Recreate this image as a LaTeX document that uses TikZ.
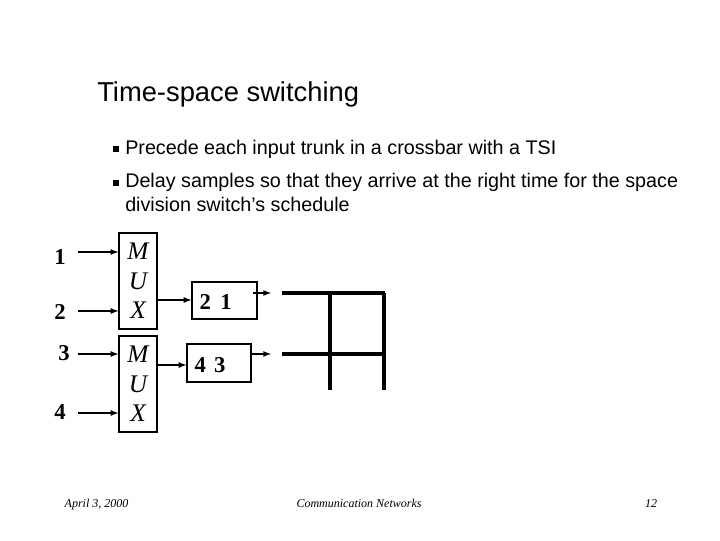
\documentclass[tikz,border=0pt]{standalone}
\usepackage{fontspec}
\setmainfont{Liberation Serif}
\newfontfamily\arial{Liberation Sans}
\begin{document}
\begin{tikzpicture}[x=0.75pt,y=-0.75pt,
 box/.style={draw,line width=0.9pt,inner sep=0pt},
 arr/.style={-latex,line width=1pt},
 bar/.style={line width=2.6pt},
 num/.style={font=\fontsize{17}{17}\selectfont\bfseries},
 mux/.style={font=\fontsize{19}{22}\selectfont\itshape,align=center},
 foot/.style={font=\fontsize{9}{10}\selectfont\itshape,anchor=base},
 bul/.style={fill,minimum size=4.5pt,inner sep=0pt}]
\useasboundingbox (0,0) rectangle (720,540);
\node[anchor=base west,font=\arial\fontsize{20.5}{24}\selectfont,inner sep=0pt] (title) at (97,101) {Time-space switching};
\node[bul] (b1) at (116,149) {};
\node[bul] (b2) at (116,183) {};
\node[anchor=base west,font=\arial\fontsize{14.8}{18}\selectfont,align=left,inner sep=0pt] (t1) at (125,154) {Precede each input trunk in a crossbar with a TSI};
\node[anchor=north west,font=\arial\fontsize{14.8}{18}\selectfont,align=left,inner sep=0pt] (t2) at (125,173) {Delay samples so that they arrive at the right time for the space\\division switch’s schedule};
% MUXes
\node[box,minimum width=38*0.75pt,minimum height=96*0.75pt] (m1) at (138,281) {};
\node[box,minimum width=38*0.75pt,minimum height=96*0.75pt] (m2) at (138,384) {};
\node[mux] (m1t) at (m1.center) {M\\U\\X};
\node[mux] (m2t) at (m2.center) {M\\U\\X};
% inputs
\node[num] (n1) at (60,257) {1};
\node[num] (n2) at (60,312) {2};
\node[num] (n3) at (64,353) {3};
\node[num] (n4) at (60,412) {4};
\coordinate (i1) at (78,252); \coordinate (i2) at (78,311);
\coordinate (i3) at (78,354); \coordinate (i4) at (78,413);
\draw[arr] (i1) -- (i1 -| m1.west);
\draw[arr] (i2) -- (i2 -| m1.west);
\draw[arr] (i3) -- (i3 -| m2.west);
\draw[arr] (i4) -- (i4 -| m2.west);
% TSI boxes
\node[box,minimum width=65*0.75pt,minimum height=37*0.75pt] (s1) at (224.5,300.5) {};
\node[num,anchor=west] (s1t) at (195,302) {2\hspace{7pt}1};
\node[box,minimum width=64*0.75pt,minimum height=38*0.75pt] (s2) at (219,363) {};
\node[num,anchor=west] (s2t) at (190,365) {4\hspace{6pt}3};
\coordinate (o1) at (157,300); \coordinate (o2) at (157,365);
\draw[arr] (o1) -- (o1 -| s1.west);
\draw[arr] (o2) -- (o2 -| s2.west);
% crossbar
\coordinate (a1) at (253,293); \coordinate (e1) at (271,293);
\coordinate (a2) at (251,354); \coordinate (e2) at (271,354);
\draw[arr] (a1) -- (e1);
\draw[arr] (a2) -- (e2);
\coordinate (h1) at (282,293); \coordinate (h1e) at (385,293);
\coordinate (h2) at (282,354); \coordinate (h2e) at (385,354);
\coordinate (v1) at (330,293); \coordinate (v1e) at (330,390);
\coordinate (v2) at (384,293); \coordinate (v2e) at (384,390);
\draw[bar] (h1) -- (h1e);
\draw[bar] (h2) -- (h2e);
\draw[bar] (v1) -- (v1e);
\draw[bar] (v2) -- (v2e);
% footer
\node[foot,anchor=base west] (f1) at (60,507) {April 3, 2000};
\node[foot] (f2) at (359,507) {Communication Networks};
\node[foot] (f3) at (651,507) {12};
\end{tikzpicture}
\end{document}
